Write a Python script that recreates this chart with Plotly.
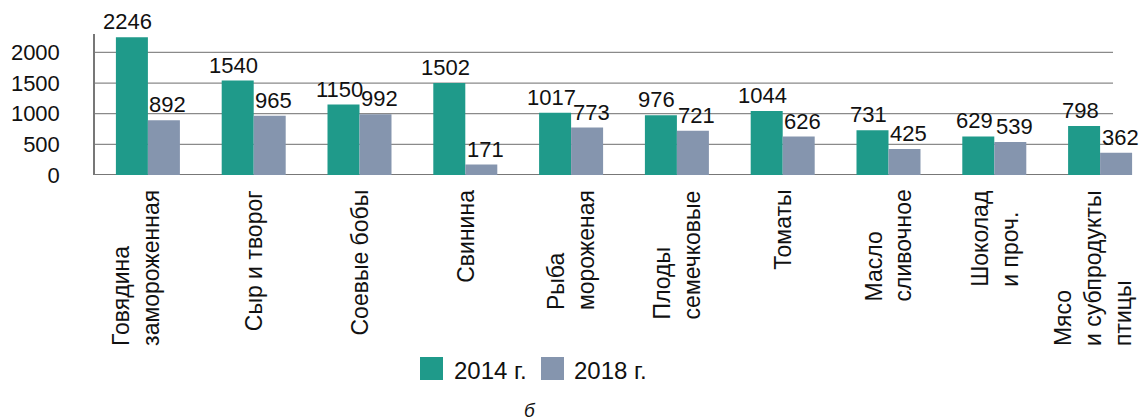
import plotly.graph_objects as go

categories = [
    "Говядина<br>замороженная",
    "Сыр и творог",
    "Соевые бобы",
    "Свинина",
    "Рыба<br>мороженая",
    "Плоды<br>семечковые",
    "Томаты",
    "Масло<br>сливочное",
    "Шоколад<br>и проч.",
    "Мясо<br>и субпродукты<br>птицы",
]
values_2014 = [2246, 1540, 1150, 1502, 1017, 976, 1044, 731, 629, 798]
values_2018 = [892, 965, 992, 171, 773, 721, 626, 425, 539, 362]
series_names = ["2014 г.", "2018 г."]
y_ticks = [0, 500, 1000, 1500, 2000]
caption = "б"

FONT = "Liberation Sans, Arial, sans-serif"
C2014 = "#1f9a8a"
C2018 = "#8595ae"
TXT = "#111111"
GRID = "#8a8a8a"
AXIS = "#777777"

# plot area (px) x 95..1139, y 34..175 ; body margin removed below
W, H = 1139, 420
L, R, T, B = 95, 1139, 34, 175
GRID_END = 1113          # gridlines / x axis line stop here
PH = B - T
PW = R - L
CAT_PX = 105.8           # pixels per category
BARGAP = 0.395
HALF = (1 - BARGAP) / 4  # half a bar width, in category units


def py(ypix):
    return (B - ypix) / PH


def px(xpix):
    return (xpix - L) / PW


fig = go.Figure()
for name, vals, col in [(series_names[0], values_2014, C2014), (series_names[1], values_2018, C2018)]:
    fig.add_trace(go.Bar(
        x=categories, y=vals, name=name,
        marker=dict(color=col, line=dict(width=0)),
        cliponaxis=False, showlegend=False,
    ))

fig.update_layout(
    width=W, height=H,
    margin=dict(l=L, r=W - R, t=T, b=H - B, pad=0, autoexpand=False),
    paper_bgcolor="white", plot_bgcolor="white",
    barmode="group", bargap=BARGAP, bargroupgap=0,
    font=dict(family=FONT, size=22, color=TXT),
    showlegend=False,
)
fig.update_xaxes(
    showticklabels=False, automargin=False, range=[-0.5, -0.5 + PW / CAT_PX],
    showline=False, ticks="", showgrid=False, zeroline=False,
)
fig.update_yaxes(
    range=[0, 2300], tickvals=y_ticks, ticktext=[str(t) for t in y_ticks],
    tickfont=dict(size=22, family=FONT, color=TXT), automargin=False,
    showgrid=False,
    showline=True, linecolor=AXIS, linewidth=1.5, ticks="", ticklen=0,
    zeroline=False, ticklabelstandoff=29,
)

# horizontal gridlines and x axis line, ending short of the plot edge
for t in y_ticks:
    fig.add_shape(type="line", xref="paper", yref="y", x0=0, x1=px(GRID_END), y0=t, y1=t,
                  line=dict(color=AXIS if t == 0 else GRID, width=2 if t == 0 else 1.2),
                  layer="below")

# value labels above bars
for i in range(len(categories)):
    fig.add_annotation(text=str(values_2014[i]), x=i - HALF, y=values_2014[i], xref="x", yref="y",
                       xanchor="center", yanchor="bottom", xshift=-4, yshift=1, showarrow=False,
                       font=dict(size=22, family=FONT, color=TXT))
    fig.add_annotation(text=str(values_2018[i]), x=i + HALF, y=values_2018[i], xref="x", yref="y",
                       xanchor="center", yanchor="bottom", xshift=4, yshift=1, showarrow=False,
                       font=dict(size=22, family=FONT, color=TXT))

# category labels, rotated, lines aligned at the bottom
n = len(categories)
for i, cat in enumerate(categories):
    shift = -12 if i == 0 else (-7 if i == n - 1 else 0)
    fig.add_annotation(
        text=cat, x=i, xref="x", yref="paper", y=py(188),
        xanchor="center", yanchor="top", textangle=-90, align="left",
        xshift=shift, showarrow=False,
        font=dict(size=23, family=FONT, color=TXT),
    )

# legend drawn as squares + text
legend_items = [(series_names[0], C2014, 420, 452), (series_names[1], C2018, 541, 572)]
for name, col, sx, tx in legend_items:
    fig.add_shape(type="rect", xref="paper", yref="paper",
                  x0=px(sx), x1=px(sx + 23), y0=py(380), y1=py(357),
                  fillcolor=col, line=dict(width=0))
    fig.add_annotation(text=name, xref="paper", yref="paper", x=px(tx), y=py(370),
                       xanchor="left", yanchor="middle", showarrow=False,
                       font=dict(size=24, family=FONT, color=TXT))

fig.add_annotation(text="<i>" + caption + "</i>", xref="paper", yref="paper", x=px(530), y=py(410),
                   xanchor="center", yanchor="middle", showarrow=False,
                   font=dict(size=19, family=FONT, color=TXT))

fig.write_html("out.html", config={"displayModeBar": False},
               post_script="document.body.style.margin='0px';")
